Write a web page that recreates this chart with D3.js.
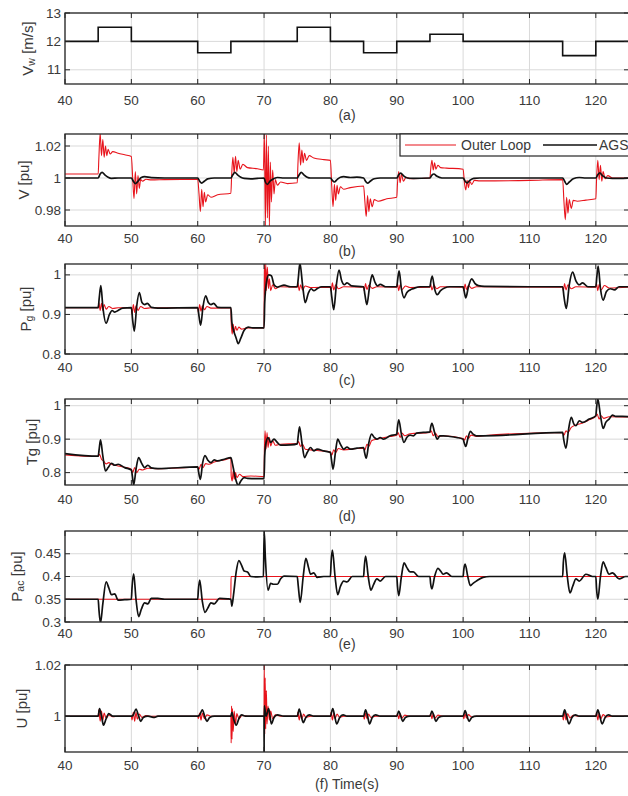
<!DOCTYPE html>
<html>
<head>
<meta charset="utf-8">
<script src="https://cdn.jsdelivr.net/npm/d3@7"></script>
<style>
  body { margin: 0; background: #fff; }
  text { font-family: "Liberation Sans", Arial, sans-serif; fill: #3a3a3a; }
</style>
</head>
<body>
<svg id="chart" width="628" height="796"></svg>
<script>
// ---- data ----
const timeTicks = [40, 50, 60, 70, 80, 90, 100, 110, 120];

// (a) wind speed steps [m/s]
const windTimes = [40, 45, 50, 60, 65, 75, 80, 85, 90, 95, 100, 115, 120, 125];
const windSpeed = [12, 12.5, 12, 11.6, 12, 12.5, 12, 11.6, 12, 12.25, 12, 11.5, 12, 12];

// (b) voltage V [pu]
const voltOuter = [[40,1.0025],[45,1.0025],[45.1,1.012],[45.3,1.028],[45.5,1.014],[45.7,1.024],[45.9,1.013],[46.1,1.02],[46.3,1.014],[46.5,1.018],[46.8,1.015],[47.2,1.0165],[48,1.0155],[49,1.0145],[50,1.0135],[50.2,1.0],[50.4,0.987],[50.6,1.004],[50.8,0.99],[51,1.0015],[51.2,0.9935],[51.4,0.999],[51.7,0.998],[52.2,0.9992],[53,0.9988],[55,0.999],[60,0.9992],[60.2,0.99],[60.4,0.979],[60.6,0.993],[60.8,0.982],[61,0.991],[61.2,0.985],[61.5,0.9895],[62,0.988],[63,0.9895],[65,0.9905],[65.1,1.0],[65.3,1.013],[65.5,1.003],[65.7,1.0135],[65.9,1.004],[66.1,1.011],[66.4,1.0055],[66.8,1.0085],[67.5,1.0065],[69,1.0058],[69.9,1.005],[70.05,1.028],[70.2,0.97],[70.35,1.027],[70.5,0.975],[70.65,1.02],[70.8,0.97],[70.95,1.01],[71.1,0.985],[71.3,1.005],[71.5,0.99],[71.7,0.999],[72,0.9955],[72.5,0.9975],[73.5,0.9965],[75,0.997],[75.1,1.008],[75.3,1.022],[75.5,1.008],[75.7,1.0175],[75.9,1.0095],[76.1,1.0155],[76.4,1.011],[76.8,1.014],[77.5,1.0125],[79,1.0115],[80,1.011],[80.2,0.995],[80.4,0.982],[80.6,0.996],[80.8,0.986],[81,0.9955],[81.2,0.99],[81.5,0.9945],[82,0.993],[83,0.994],[85,0.995],[85.2,0.985],[85.4,0.976],[85.6,0.989],[85.8,0.979],[86,0.987],[86.3,0.982],[86.6,0.9865],[87.2,0.9855],[88.5,0.987],[90,0.988],[90.1,0.996],[90.3,1.004],[90.5,0.997],[90.7,1.0025],[91,0.998],[91.4,1.0005],[92,0.9995],[95,1.0],[95.1,1.005],[95.3,1.011],[95.5,1.005],[95.7,1.0095],[95.9,1.0055],[96.2,1.008],[96.6,1.0065],[97.5,1.0062],[100,1.0055],[100.2,0.997],[100.4,0.9925],[100.6,0.9985],[100.8,0.994],[101,0.998],[101.3,0.996],[101.7,0.9985],[102.5,0.9982],[110,0.9985],[115,0.999],[115.2,0.985],[115.4,0.974],[115.6,0.988],[115.8,0.978],[116,0.9865],[116.3,0.981],[116.6,0.986],[117.2,0.9855],[118.5,0.9862],[120,0.987],[120.1,0.998],[120.3,1.011],[120.5,0.999],[120.7,1.008],[120.9,0.998],[121.1,1.004],[121.4,0.9995],[121.8,1.0015],[122.5,1.0],[125,1.0]];
const voltAGS = [[40,1.0],[45,1.0],[45.3,1.0025],[45.6,1.0035],[46,1.002],[46.5,1.0005],[47,0.9998],[48,1.0],[50,1.0],[50.3,0.998],[50.6,0.9965],[51,0.998],[51.5,1.0003],[52,1.0008],[53,1.0002],[55,1.0],[60,1.0],[60.3,0.998],[60.6,0.9968],[61,0.998],[61.5,0.9995],[62.5,1.0],[65,1.0],[65.3,1.002],[65.6,1.0035],[66,1.002],[66.5,1.0005],[67,0.9998],[68,0.9995],[69,0.9998],[70,1.0],[70.2,0.9975],[70.5,0.996],[70.9,0.998],[71.3,0.9992],[72,1.0003],[73,1.0],[75,1.0],[75.3,1.002],[75.6,1.0035],[76,1.002],[76.5,1.0005],[77,1.0],[80,1.0],[80.3,0.9985],[80.6,0.9975],[81,0.999],[81.5,1.0005],[82,1.0008],[83,1.0003],[84,1.0005],[85,1.0],[85.3,0.998],[85.6,0.9968],[86,0.998],[86.6,0.9995],[87.5,1.0],[90,1.0],[90.3,1.002],[90.6,1.003],[91,1.0015],[91.6,1.0],[92.5,0.9998],[95,1.0],[95.3,1.0018],[95.6,1.0025],[96,1.0012],[96.8,1.0],[100,1.0],[100.3,0.998],[100.6,0.997],[101,0.9985],[101.6,0.9998],[102.5,1.0],[115,1.0],[115.3,0.998],[115.6,0.996],[116,0.9975],[116.6,0.9995],[117.5,1.0003],[118.5,1.0],[120,1.0],[120.3,1.002],[120.6,1.0032],[121,1.0015],[121.6,1.0],[122.5,0.9998],[125,1.0]];

// (c) generator power Pg [pu]
const pgOuter = [[40,0.917],[45,0.917],[45.1,0.93],[45.3,0.91],[45.5,0.928],[45.7,0.91],[45.9,0.925],[46.2,0.913],[46.6,0.92],[47.2,0.915],[48,0.917],[50,0.917],[50.1,0.9],[50.3,0.925],[50.5,0.905],[50.7,0.922],[51,0.91],[51.4,0.92],[52,0.915],[53,0.917],[60,0.917],[60.1,0.905],[60.3,0.925],[60.5,0.908],[60.7,0.922],[61,0.912],[61.4,0.92],[62,0.916],[65,0.917],[65.05,0.88],[65.2,0.85],[65.35,0.875],[65.5,0.855],[65.7,0.87],[65.9,0.86],[66.2,0.868],[66.6,0.863],[67.5,0.866],[70,0.866],[70.05,1.03],[70.15,0.95],[70.25,1.03],[70.35,0.96],[70.5,1.02],[70.65,0.965],[70.8,0.99],[71,0.96],[71.3,0.975],[71.7,0.965],[72.3,0.97],[75,0.969],[75.1,0.98],[75.3,0.96],[75.5,0.975],[75.8,0.962],[76.2,0.972],[77,0.968],[80,0.969],[80.1,0.96],[80.3,0.98],[80.5,0.962],[80.8,0.975],[81.2,0.965],[82,0.97],[85,0.969],[85.1,0.96],[85.3,0.978],[85.5,0.963],[85.8,0.974],[86.3,0.966],[87,0.97],[90,0.969],[90.1,0.978],[90.3,0.96],[90.5,0.975],[90.8,0.963],[91.3,0.972],[92,0.968],[95,0.969],[95.1,0.977],[95.3,0.962],[95.6,0.974],[96,0.965],[96.6,0.97],[100,0.969],[100.1,0.96],[100.3,0.977],[100.5,0.963],[100.8,0.973],[101.3,0.966],[102,0.97],[115,0.969],[115.1,0.96],[115.3,0.978],[115.5,0.962],[115.8,0.975],[116.3,0.965],[117,0.97],[120,0.969],[120.1,0.978],[120.3,0.96],[120.5,0.976],[120.8,0.962],[121.3,0.973],[122,0.967],[125,0.969]];
const pgAGS = [[40,0.917],[45,0.917],[45.15,0.94],[45.4,0.973],[45.7,0.92],[46.2,0.878],[46.7,0.9],[47.1,0.91],[47.5,0.906],[48,0.91],[48.7,0.916],[50,0.917],[50.2,0.885],[50.45,0.858],[50.8,0.92],[51.2,0.955],[51.6,0.93],[52,0.925],[52.4,0.928],[53,0.918],[54,0.916],[60,0.917],[60.2,0.895],[60.45,0.873],[60.8,0.92],[61.2,0.947],[61.6,0.93],[62,0.925],[62.4,0.928],[63,0.918],[64,0.917],[65,0.917],[65.15,0.88],[65.4,0.86],[65.8,0.84],[66.1,0.826],[66.5,0.84],[67,0.86],[67.6,0.868],[68.3,0.866],[70,0.866],[70.1,0.93],[70.4,0.985],[70.7,1.0],[71.1,0.998],[71.5,0.975],[72,0.969],[72.5,0.972],[73,0.974],[74,0.97],[75,0.97],[75.15,0.99],[75.4,1.03],[75.8,0.975],[76.2,0.93],[76.7,0.955],[77.1,0.965],[77.5,0.96],[78,0.965],[78.7,0.97],[80,0.97],[80.2,0.945],[80.5,0.912],[80.9,0.975],[81.3,1.012],[81.7,0.985],[82.1,0.975],[82.5,0.98],[83.2,0.972],[85,0.97],[85.2,0.95],[85.5,0.925],[85.9,0.97],[86.3,1.0],[86.7,0.982],[87.1,0.972],[87.5,0.976],[88.3,0.97],[90,0.97],[90.15,0.99],[90.35,1.01],[90.7,0.965],[91.1,0.942],[91.5,0.955],[92,0.962],[92.6,0.966],[93.5,0.97],[95,0.97],[95.15,0.985],[95.35,0.997],[95.7,0.965],[96.1,0.95],[96.6,0.96],[97.2,0.967],[98,0.97],[100,0.97],[100.2,0.955],[100.4,0.942],[100.8,0.97],[101.3,0.99],[101.8,0.978],[102.3,0.973],[103.2,0.971],[110,0.97],[115,0.97],[115.2,0.945],[115.55,0.915],[116,0.975],[116.5,1.007],[117,0.985],[117.5,0.975],[118,0.98],[118.8,0.97],[120,0.97],[120.15,0.995],[120.35,1.022],[120.7,0.965],[121.1,0.936],[121.6,0.958],[122.2,0.965],[122.8,0.962],[123.5,0.97],[125,0.97]];

// (d) generator torque Tg [pu]
const tgOuter = [[40,0.853],[45,0.848],[45.2,0.855],[45.5,0.84],[45.8,0.835],[46.2,0.826],[46.6,0.83],[47,0.825],[48,0.82],[49,0.816],[50,0.81],[50.2,0.8],[50.5,0.815],[50.8,0.8],[51.2,0.81],[51.7,0.808],[52.5,0.813],[54,0.812],[60,0.816],[60.2,0.81],[60.5,0.825],[60.8,0.815],[61.2,0.827],[61.7,0.825],[62.5,0.832],[64,0.838],[65,0.843],[65.05,0.79],[65.2,0.775],[65.35,0.805],[65.5,0.78],[65.7,0.8],[65.9,0.785],[66.3,0.795],[66.8,0.788],[68,0.79],[70,0.788],[70.05,0.86],[70.15,0.925],[70.3,0.87],[70.45,0.92],[70.6,0.875],[70.8,0.905],[71,0.88],[71.3,0.895],[71.7,0.882],[72.5,0.885],[75,0.887],[75.2,0.893],[75.5,0.878],[75.8,0.885],[76.2,0.87],[77,0.868],[78,0.866],[80,0.862],[80.2,0.852],[80.5,0.868],[80.8,0.86],[81.2,0.872],[82,0.868],[84,0.872],[85,0.873],[85.2,0.868],[85.5,0.885],[85.8,0.878],[86.2,0.895],[87,0.9],[89,0.908],[90,0.912],[90.2,0.92],[90.5,0.905],[90.8,0.918],[91.2,0.91],[92,0.916],[95,0.92],[95.2,0.925],[95.5,0.91],[95.8,0.918],[96.2,0.908],[97,0.91],[100,0.902],[100.2,0.897],[100.5,0.91],[100.8,0.902],[101.2,0.912],[102,0.908],[103,0.91],[115,0.92],[115.2,0.912],[115.5,0.925],[115.8,0.92],[116.3,0.935],[117,0.942],[118,0.948],[119,0.958],[120,0.968],[120.2,0.975],[120.5,0.96],[120.8,0.97],[121.2,0.962],[122,0.967],[125,0.966]];
const tgAGS = [[40,0.857],[45,0.849],[45.15,0.87],[45.35,0.898],[45.7,0.85],[46.1,0.805],[46.5,0.815],[47,0.828],[47.5,0.822],[48,0.825],[49,0.815],[50,0.808],[50.15,0.79],[50.35,0.763],[50.7,0.81],[51.1,0.845],[51.5,0.83],[52,0.815],[52.5,0.822],[53,0.814],[54,0.812],[60,0.817],[60.15,0.8],[60.4,0.78],[60.75,0.83],[61.1,0.851],[61.5,0.838],[62,0.83],[62.5,0.838],[63,0.835],[64,0.84],[65,0.845],[65.2,0.83],[65.5,0.8],[65.8,0.775],[66.1,0.762],[66.5,0.775],[67,0.785],[67.5,0.783],[69,0.782],[70,0.782],[70.1,0.85],[70.3,0.89],[70.6,0.905],[71,0.89],[71.5,0.9],[72,0.89],[72.5,0.882],[74,0.883],[75,0.886],[75.15,0.91],[75.35,0.937],[75.7,0.89],[76.1,0.845],[76.5,0.86],[77,0.875],[77.5,0.865],[78,0.87],[79,0.865],[80,0.86],[80.15,0.84],[80.4,0.81],[80.75,0.86],[81.1,0.9],[81.5,0.885],[82,0.87],[82.5,0.876],[83,0.87],[84,0.873],[85,0.875],[85.15,0.86],[85.4,0.843],[85.8,0.89],[86.2,0.915],[86.6,0.905],[87,0.9],[87.5,0.905],[88,0.9],[89,0.91],[90,0.915],[90.1,0.935],[90.3,0.958],[90.7,0.915],[91.1,0.89],[91.5,0.905],[92,0.912],[92.5,0.91],[93,0.918],[94,0.92],[95,0.922],[95.1,0.935],[95.3,0.947],[95.7,0.92],[96.1,0.9],[96.5,0.91],[97,0.91],[98,0.908],[99,0.905],[100,0.9],[100.15,0.89],[100.4,0.878],[100.75,0.905],[101.1,0.923],[101.5,0.915],[102,0.91],[103,0.91],[115,0.92],[115.15,0.9],[115.5,0.873],[115.9,0.93],[116.3,0.965],[116.7,0.945],[117,0.94],[117.5,0.955],[118,0.95],[119,0.96],[120,0.97],[120.1,0.99],[120.3,1.02],[120.7,0.97],[121.1,0.932],[121.5,0.95],[122,0.96],[122.5,0.972],[123,0.968],[124,0.968],[125,0.967]];

// (e) ac power Pac [pu]
const pacOuter = [[40,0.35],[65,0.35],[65.02,0.4],[125,0.4]];
const pacAGS = [[40,0.35],[45,0.35],[45.1,0.33],[45.35,0.298],[45.7,0.34],[46.2,0.388],[46.6,0.375],[47,0.36],[47.5,0.362],[48,0.348],[49,0.349],[50,0.35],[50.1,0.375],[50.35,0.406],[50.7,0.35],[51.1,0.312],[51.5,0.328],[52,0.342],[52.5,0.34],[53,0.352],[54,0.352],[55,0.35],[60,0.35],[60.1,0.37],[60.3,0.392],[60.7,0.345],[61.1,0.321],[61.5,0.33],[62,0.342],[62.5,0.34],[63.3,0.352],[64.5,0.351],[65,0.35],[65.15,0.335],[65.4,0.36],[65.8,0.41],[66.2,0.435],[66.6,0.425],[67,0.412],[67.5,0.41],[68,0.4],[69,0.399],[69.9,0.4],[70.02,0.5],[70.2,0.44],[70.6,0.37],[71,0.385],[71.4,0.383],[72,0.383],[72.5,0.395],[73,0.401],[75,0.4],[75.15,0.38],[75.45,0.343],[75.9,0.4],[76.3,0.44],[76.7,0.42],[77,0.405],[77.5,0.408],[78,0.398],[79,0.4],[80,0.4],[80.1,0.43],[80.3,0.458],[80.7,0.4],[81.1,0.36],[81.5,0.378],[82,0.39],[82.5,0.388],[83.3,0.4],[85,0.4],[85.1,0.42],[85.3,0.445],[85.7,0.4],[86.1,0.37],[86.5,0.382],[87,0.395],[87.5,0.39],[88.3,0.4],[90,0.4],[90.1,0.38],[90.3,0.358],[90.7,0.4],[91.1,0.43],[91.5,0.42],[92,0.41],[92.5,0.41],[93.3,0.4],[95,0.4],[95.1,0.385],[95.3,0.373],[95.7,0.4],[96.2,0.418],[96.6,0.412],[97,0.405],[97.5,0.408],[98.3,0.4],[100,0.4],[100.1,0.415],[100.3,0.427],[100.7,0.4],[101.1,0.38],[101.5,0.385],[102,0.39],[103,0.398],[104,0.4],[115,0.4],[115.1,0.43],[115.3,0.452],[115.7,0.4],[116.1,0.364],[116.5,0.378],[117,0.395],[117.5,0.39],[118.5,0.405],[119.5,0.4],[120,0.4],[120.1,0.375],[120.3,0.35],[120.7,0.4],[121.1,0.432],[121.5,0.42],[122,0.405],[122.5,0.408],[123.5,0.395],[124.5,0.4],[125,0.4]];

// (f) U [pu]
const uOuter = [[40,1.0],[45,1.0],[45.1,1.0025],[45.3,0.998],[45.5,1.002],[45.7,0.9985],[45.9,1.0012],[46.2,0.9992],[46.6,1.0005],[47.2,0.9998],[48,1.0],[50,1.0],[50.1,0.9985],[50.3,1.0015],[50.5,0.998],[50.7,1.0015],[50.9,0.9988],[51.2,1.0008],[51.6,0.9995],[52.2,1.0002],[53,1.0],[60,1.0],[60.1,0.999],[60.3,1.0012],[60.5,0.9985],[60.7,1.0012],[61,0.999],[61.4,1.0005],[62,1.0],[65,1.0],[65.04,0.9895],[65.1,1.004],[65.17,0.991],[65.25,1.003],[65.35,0.994],[65.5,1.002],[65.7,0.997],[65.9,1.001],[66.2,0.999],[66.7,1.0003],[67.5,1.0],[70,1.0],[70.03,1.02],[70.1,0.993],[70.17,1.015],[70.25,0.995],[70.35,1.01],[70.45,0.997],[70.6,1.004],[70.8,0.9985],[71,1.002],[71.3,0.999],[71.7,1.0005],[72.5,1.0],[75,1.0],[75.1,1.0015],[75.3,0.9985],[75.5,1.0012],[75.7,0.999],[75.95,1.0008],[76.3,0.9995],[77,1.0],[80,1.0],[80.1,1.0015],[80.3,0.9985],[80.5,1.0012],[80.7,0.999],[81,1.0008],[81.4,0.9995],[82,1.0],[85,1.0],[85.1,0.9988],[85.3,1.0012],[85.5,0.999],[85.75,1.0008],[86.1,0.9995],[86.8,1.0],[90,1.0],[90.1,1.001],[90.3,0.999],[90.5,1.001],[90.8,0.9993],[91.2,1.0004],[92,1.0],[95,1.0],[95.1,1.001],[95.3,0.999],[95.5,1.001],[95.8,0.9993],[96.2,1.0004],[97,1.0],[100,1.0],[100.1,0.999],[100.3,1.001],[100.5,0.9992],[100.8,1.0006],[101.3,0.9997],[102,1.0],[115,1.0],[115.1,0.9985],[115.3,1.0015],[115.5,0.9985],[115.75,1.001],[116.1,0.9993],[116.6,1.0003],[117.3,1.0],[120,1.0],[120.1,1.0015],[120.3,0.9985],[120.5,1.0012],[120.75,0.999],[121.1,1.0006],[121.6,0.9997],[122.5,1.0],[125,1.0]];
const uAGS = [[40,1.0],[45,1.0],[45.2,1.003],[45.5,1.0],[45.8,0.9965],[46.2,0.999],[46.6,1.001],[47.2,1.0],[50,1.0],[50.3,1.0005],[50.7,1.0028],[51.1,1.0],[51.4,0.998],[51.8,0.9995],[52.5,1.0],[53.5,0.9995],[54,1.0],[60,1.0],[60.3,1.0005],[60.7,1.0025],[61.1,0.9995],[61.4,0.998],[61.8,0.9995],[62.5,1.0],[65,1.0],[65.15,1.0015],[65.4,0.999],[65.8,0.9965],[66.2,0.999],[66.6,1.0005],[67.2,1.0],[70,1.0],[70.01,0.986],[70.03,1.004],[70.3,1.0],[70.7,1.003],[71.1,0.997],[71.5,0.9995],[72,1.0005],[73,1.0],[75,1.0],[75.3,1.0028],[75.6,1.0],[75.9,0.9975],[76.3,0.9995],[76.8,1.0005],[77.5,1.0],[80,1.0],[80.35,1.003],[80.65,1.0],[80.95,0.997],[81.4,0.9995],[81.9,1.0005],[82.5,1.0],[85,1.0],[85.3,1.0025],[85.6,1.0],[85.9,0.997],[86.3,0.9995],[86.8,1.0005],[87.5,1.0],[90,1.0],[90.3,1.002],[90.6,1.0],[90.9,0.998],[91.3,0.9995],[92,1.0],[95,1.0],[95.3,1.002],[95.6,1.0],[95.9,0.998],[96.3,0.9995],[97,1.0],[100,1.0],[100.3,1.0022],[100.6,1.0],[100.9,0.998],[101.3,0.9995],[102,1.0],[115,1.0],[115.3,1.0025],[115.6,1.0],[115.95,0.997],[116.4,0.9995],[116.9,1.0005],[117.5,1.0],[120,1.0],[120.3,1.0025],[120.6,1.0],[120.95,0.997],[121.4,0.9995],[121.9,1.0005],[122.5,1.0],[125,1.0]];

// ---- layout ----
const svg = d3.select("#chart");
const xLeft = 65, xRight = 629;
const x = d3.scaleLinear().domain([40, 125]).range([xLeft, xRight]);
const xMid = (xLeft + xRight) / 2;
const RED = "#e8141c", BLACK = "#111";

const panels = [
    { top: 13, bottom: 84, domain: [10.5, 13], ticks: [11, 12, 13],
      label: [["V", 0], ["w", 1], [" [m/s]", 0]], labelX: 27, tickY: 100, caption: "(a)", capY: 115,
      step: true },
    { top: 134, bottom: 226, domain: [0.97, 1.0275], ticks: [0.98, 1, 1.02],
      label: [["V [pu]", 0]], labelX: 23, tickY: 238, caption: "(b)", capY: 251,
      red: voltOuter, black: voltAGS, legend: true },
    { top: 264, bottom: 354, domain: [0.8, 1.0275], ticks: [0.8, 0.9, 1],
      label: [["P", 0], ["g", 1], [" [pu]", 0]], labelX: 25, tickY: 367, caption: "(c)", capY: 380,
      red: pgOuter, black: pgAGS },
    { top: 399, bottom: 485, domain: [0.763, 1.02], ticks: [0.8, 0.9, 1],
      label: [["Tg [pu]", 0]], labelX: 31, tickY: 499, caption: "(d)", capY: 516,
      red: tgOuter, black: tgAGS },
    { top: 531, bottom: 622, domain: [0.3, 0.5], ticks: [0.3, 0.35, 0.4, 0.45],
      label: [["P", 0], ["ac", 1], [" [pu]", 0]], labelX: 16, tickY: 633, caption: "(e)", capY: 644,
      red: pacOuter, black: pacAGS },
    { top: 665, bottom: 752, domain: [0.986, 1.02], ticks: [1, 1.02],
      label: [["U [pu]", 0]], labelX: 21, tickY: 765, caption: "(f) Time(s)", capY: 784,
      red: uOuter, black: uAGS }
];

panels.forEach((p, i) => {
    const y = d3.scaleLinear().domain(p.domain).range([p.bottom, p.top]);
    const g = svg.append("g");

    g.append("clipPath").attr("id", "clip" + i)
        .append("rect")
        .attr("x", xLeft).attr("y", p.top)
        .attr("width", xRight - xLeft).attr("height", p.bottom - p.top);

    // grid
    g.append("g").selectAll("line").data(timeTicks).join("line")
        .attr("x1", d => x(d)).attr("x2", d => x(d))
        .attr("y1", p.top).attr("y2", p.bottom)
        .attr("stroke", "#d9d9d9").attr("stroke-width", 1);
    g.append("g").selectAll("line").data(p.ticks).join("line")
        .attr("x1", xLeft).attr("x2", xRight)
        .attr("y1", d => y(d)).attr("y2", d => y(d))
        .attr("stroke", "#d9d9d9").attr("stroke-width", 1);

    // series
    const plot = g.append("g").attr("clip-path", `url(#clip${i})`);
    if (p.step) {
        const pts = windTimes.map((t, k) => [t, windSpeed[k]]);
        plot.append("path").datum(pts)
            .attr("fill", "none").attr("stroke", BLACK).attr("stroke-width", 1.6)
            .attr("d", d3.line().x(d => x(d[0])).y(d => y(d[1])).curve(d3.curveStepAfter));
    } else {
        const line = d3.line().x(d => x(d[0])).y(d => y(d[1])).curve(d3.curveMonotoneX);
        plot.append("path").datum(p.red)
            .attr("fill", "none").attr("stroke", RED).attr("stroke-width", 1.1)
            .attr("d", line);
        plot.append("path").datum(p.black)
            .attr("fill", "none").attr("stroke", BLACK).attr("stroke-width", 1.7)
            .attr("d", line);
    }

    // tick marks (inside)
    const tk = g.append("g").attr("stroke", "#262626").attr("stroke-width", 1);
    timeTicks.forEach(t => {
        tk.append("line").attr("x1", x(t)).attr("x2", x(t)).attr("y1", p.bottom).attr("y2", p.bottom - 5);
        tk.append("line").attr("x1", x(t)).attr("x2", x(t)).attr("y1", p.top).attr("y2", p.top + 5);
    });
    p.ticks.forEach(v => {
        tk.append("line").attr("x1", xLeft).attr("x2", xLeft + 5).attr("y1", y(v)).attr("y2", y(v));
        tk.append("line").attr("x1", xRight).attr("x2", xRight - 5).attr("y1", y(v)).attr("y2", y(v));
    });

    // box
    g.append("rect")
        .attr("x", xLeft).attr("y", p.top)
        .attr("width", xRight - xLeft).attr("height", p.bottom - p.top)
        .attr("fill", "none").attr("stroke", "#262626").attr("stroke-width", 1.3);

    // tick labels
    g.append("g").selectAll("text").data(timeTicks).join("text")
        .attr("x", d => x(d)).attr("y", p.tickY)
        .attr("text-anchor", "middle").attr("dominant-baseline", "central")
        .attr("font-size", 13.5).text(d => d);
    g.append("g").selectAll("text").data(p.ticks).join("text")
        .attr("x", 61).attr("y", d => y(d))
        .attr("text-anchor", "end").attr("dominant-baseline", "central")
        .attr("font-size", 13.5).text(d => d);

    // y label
    const cy = (p.top + p.bottom) / 2;
    const lab = g.append("text")
        .attr("transform", `translate(${p.labelX},${cy}) rotate(-90)`)
        .attr("text-anchor", "middle").attr("dominant-baseline", "central")
        .attr("font-size", 15);
    let shift = 0;
    p.label.forEach(([s, sub]) => {
        const dy = sub ? 4 : 0;
        lab.append("tspan").attr("dy", dy - shift)
            .attr("font-size", sub ? 10.5 : 15).text(s);
        shift = dy;
    });

    // caption
    g.append("text").attr("x", xMid).attr("y", p.capY)
        .attr("text-anchor", "middle").attr("dominant-baseline", "central")
        .attr("font-size", 14).text(p.caption);

    // legend
    if (p.legend) {
        const lg = g.append("g");
        lg.append("rect").attr("x", 400).attr("y", 134).attr("width", 240).attr("height", 22)
            .attr("fill", "#fff").attr("stroke", "#262626").attr("stroke-width", 1.2);
        lg.append("line").attr("x1", 405).attr("x2", 456).attr("y1", 145).attr("y2", 145)
            .attr("stroke", RED).attr("stroke-width", 1.2);
        lg.append("text").attr("x", 461).attr("y", 145).attr("dominant-baseline", "central")
            .attr("font-size", 14).text("Outer Loop");
        lg.append("line").attr("x1", 543).attr("x2", 597).attr("y1", 145).attr("y2", 145)
            .attr("stroke", BLACK).attr("stroke-width", 1.7);
        lg.append("text").attr("x", 599).attr("y", 145).attr("dominant-baseline", "central")
            .attr("font-size", 14).text("AGS");
    }
});
</script>
</body>
</html>
